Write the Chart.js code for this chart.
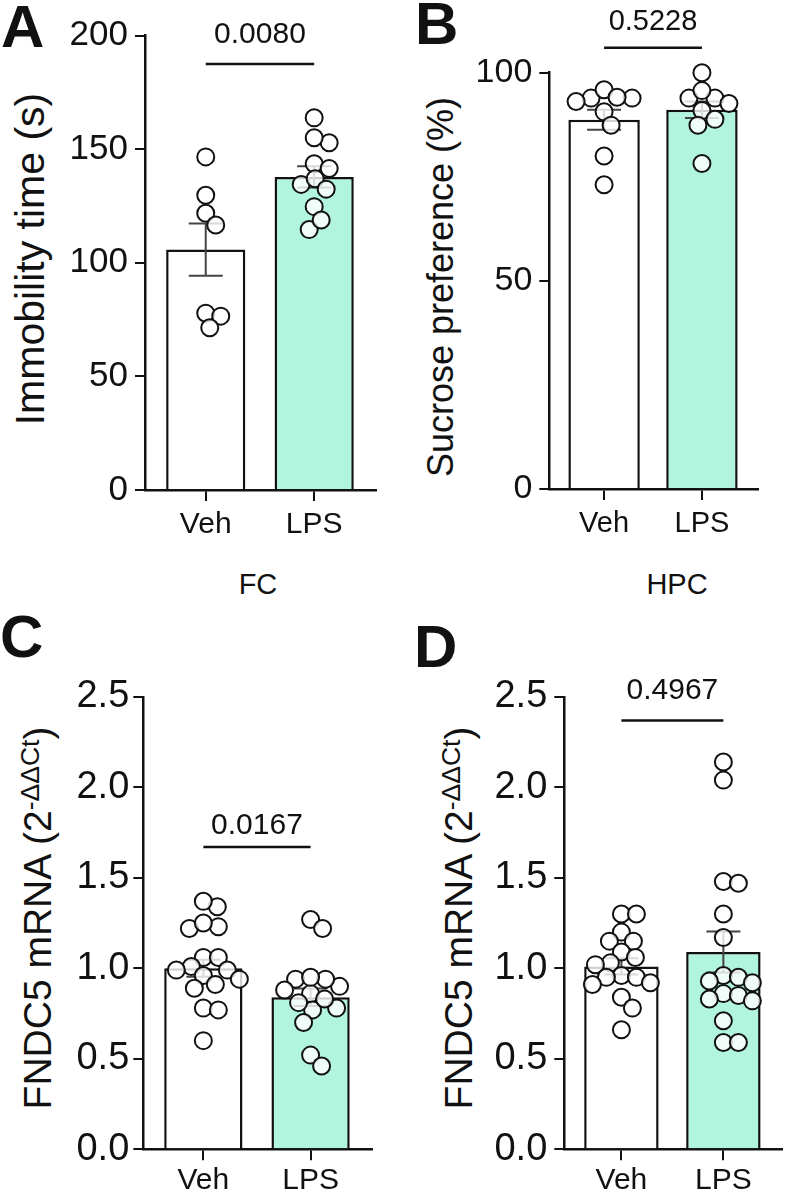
<!DOCTYPE html>
<html>
<head>
<meta charset="utf-8">
<script src="https://cdn.jsdelivr.net/npm/chart.js@4.4.1/dist/chart.umd.min.js"></script>
<style>
  body { margin: 0; background: #fff; width: 792px; height: 1196px; position: relative; overflow: hidden;
         font-family: "Liberation Sans", Arial, sans-serif; color: #111; }
  canvas { position: absolute; }
  .tag { position: absolute; font-weight: bold; font-size: 60px; line-height: 1; }
  .yt { position: absolute; transform: translate(-50%, -50%) rotate(-90deg); white-space: nowrap; line-height: 1; }
  .yt .sup { font-size: 0.68em; position: relative; top: -0.45em; line-height: 0; }
  .grp { position: absolute; width: 200px; text-align: center; font-size: 29px; line-height: 1; }
</style>
</head>
<body>
<div class="tag" style="left:1px;top:-3px">A</div>
<div class="tag" style="left:415px;top:-6px">B</div>
<div class="tag" style="left:0px;top:607px">C</div>
<div class="tag" style="left:414px;top:617px">D</div>

<div class="yt" style="left:30px;top:259px;font-size:41px">Immobility time (s)</div>
<div class="yt" style="left:441px;top:287px;font-size:36px">Sucrose preference (%)</div>
<div class="yt" style="left:37px;top:918px;font-size:39px">FNDC5 mRNA (2<span class="sup">-ΔΔCt</span>)</div>
<div class="yt" style="left:458px;top:918px;font-size:39px">FNDC5 mRNA (2<span class="sup">-ΔΔCt</span>)</div>

<div class="grp" style="left:158px;top:570px">FC</div>
<div class="grp" style="left:577px;top:570px">HPC</div>

<canvas id="cA" width="396" height="600" style="left:0;top:0"></canvas>
<canvas id="cB" width="396" height="600" style="left:396px;top:0"></canvas>
<canvas id="cC" width="396" height="596" style="left:0;top:600px"></canvas>
<canvas id="cD" width="396" height="596" style="left:396px;top:600px"></canvas>

<script>
const groups = ["Veh", "LPS"];

// A: immobility time (s)
const immobilityVeh = [121.8, 146.6, 129.7, 116.6, 77.8, 76.5, 71.4];
const immobilityLps = [163.8, 152.8, 155.0, 143.6, 141.5, 134.5, 137.0, 132.4, 124.7, 114.6, 118.8];
const immobilityMean = [105.8, 137.8];
const immobilitySem = [11.5, 4.7];
const immobilityTicks = [0, 50, 100, 150, 200];

// B: sucrose preference (%)
const sucroseVeh = [93.9, 93.9, 93.1, 95.9, 94.1, 90.6, 87.4, 80.0, 73.1];
const sucroseLps = [100.0, 93.9, 93.9, 92.6, 95.7, 90.9, 88.8, 87.4, 78.2];
const sucroseMean = [88.7, 91.1];
const sucroseSem = [2.4, 2.0];
const sucroseTicks = [0, 50, 100];

// C: FNDC5 mRNA, FC
const fcVeh = [1.34, 1.37, 1.23, 1.22, 1.25, 1.06, 1.06, 0.99, 1.01, 0.99, 0.96, 0.91, 0.94, 0.89, 0.78, 0.77, 0.60];
const fcLps = [1.27, 1.22, 0.86, 0.90, 0.94, 0.94, 0.88, 0.95, 0.77, 0.78, 0.83, 0.70, 0.81, 0.52, 0.46];
const fcMean = [1.00, 0.84];
const fcSem = [0.047, 0.048];

// D: FNDC5 mRNA, HPC
const hpcVeh = [1.30, 1.30, 1.20, 1.15, 1.15, 1.09, 1.06, 1.03, 1.02, 0.96, 0.95, 0.95, 0.92, 0.91, 0.84, 0.78, 0.66];
const hpcLps = [2.14, 2.04, 1.48, 1.47, 1.30, 1.17, 0.96, 0.93, 0.95, 0.92, 0.86, 0.85, 0.83, 0.82, 0.71, 0.59, 0.59];
const hpcMean = [1.01, 1.09];
const hpcSem = [0.045, 0.113];
const mrnaTicks = [0, 0.5, 1.0, 1.5, 2.0, 2.5];

const pValues = ["0.0080", "0.5228", "0.0167", "0.4967"];
const pLevels = [187.5, 106, 1.67, 2.37];

const FONT = "'Liberation Sans', Arial, sans-serif";
const INK = "#111";
const MINT = "#b2f5de";

// SEM whiskers, drawn over the bars but under the dots
const errorBars = {
  id: "errorBars",
  afterDatasetDraw(chart, args, opts) {
    if (args.meta.type !== "bar") return;
    const { ctx } = chart;
    const x = chart.scales.x, y = chart.scales.y;
    ctx.save();
    ctx.strokeStyle = "#444";
    ctx.lineWidth = 2;
    chart.data.datasets[args.index].data.forEach((d, i) => {
      const px = x.getPixelForValue(d.x);
      const top = y.getPixelForValue(d.y + opts.sem[i]);
      const bot = y.getPixelForValue(d.y - opts.sem[i]);
      ctx.beginPath();
      ctx.moveTo(px, top); ctx.lineTo(px, bot);
      ctx.moveTo(px - 17, top); ctx.lineTo(px + 17, top);
      ctx.moveTo(px - 17, bot); ctx.lineTo(px + 17, bot);
      ctx.stroke();
    });
    ctx.restore();
  }
};

// significance bar with p value
const pBracket = {
  id: "pBracket",
  afterDraw(chart, args, opts) {
    const { ctx } = chart;
    const x = chart.scales.x, y = chart.scales.y;
    const py = y.getPixelForValue(opts.level);
    const x0 = x.getPixelForValue(0), x1 = x.getPixelForValue(1);
    ctx.save();
    ctx.strokeStyle = INK;
    ctx.lineWidth = 2.5;
    ctx.beginPath(); ctx.moveTo(x0, py); ctx.lineTo(x1, py); ctx.stroke();
    ctx.fillStyle = INK;
    ctx.font = opts.size + "px " + FONT;
    ctx.textAlign = "center";
    ctx.textBaseline = "alphabetic";
    ctx.fillText(opts.text, (x0 + x1) / 2, py - opts.gap);
    ctx.restore();
  }
};

function dots(values, g) {
  return {
    type: "scatter",
    group: g,
    data: values.map(v => ({ x: g, y: v })),
    pointRadius: 8.5,
    pointBorderWidth: 2,
    pointBackgroundColor: "rgba(255,255,255,0.8)",
    pointBorderColor: INK,
    order: 0,
    clip: false
  };
}

function panel(id, cfg) {
  return new Chart(document.getElementById(id), {
    type: "bar",
    data: {
      datasets: [
        dots(cfg.veh, 0),
        dots(cfg.lps, 1),
        {
          type: "bar",
          data: cfg.mean.map((m, i) => ({ x: i, y: m })),
          backgroundColor: ["#ffffff", MINT],
          borderColor: INK,
          borderWidth: 2.5,
          borderSkipped: "start",
          barPercentage: 0.73,
          categoryPercentage: 1,
          order: 1
        }
      ]
    },
    options: {
      responsive: false,
      animation: false,
      events: [],
      layout: { padding: { top: cfg.top, right: cfg.right, left: 0, bottom: 0 } },
      plugins: {
        legend: { display: false },
        tooltip: { enabled: false },
        errorBars: { sem: cfg.sem },
        pBracket: { level: cfg.level, text: cfg.p, gap: cfg.gap, size: cfg.pSize }
      },
      scales: {
        x: {
          type: "linear",
          min: -0.56,
          max: 1.57,
          offset: false,
          afterBuildTicks: s => { s.ticks = [{ value: 0 }, { value: 1 }]; },
          afterFit: s => { s.height = cfg.xH; },
          ticks: { callback: v => groups[v], color: INK, font: { size: cfg.xFont, family: FONT }, padding: cfg.xPad, maxRotation: 0, autoSkip: false },
          grid: { display: true, offset: false, drawOnChartArea: false, drawTicks: true, tickLength: 11, color: INK, lineWidth: 2 },
          border: { display: true, color: INK, width: 2.5 }
        },
        y: {
          min: 0,
          max: cfg.ticks[cfg.ticks.length - 1],
          afterBuildTicks: s => { s.ticks = cfg.ticks.map(v => ({ value: v })); },
          afterFit: s => { s.width = cfg.yW; },
          ticks: { callback: cfg.fmt, color: INK, font: { size: cfg.yFont, family: FONT }, padding: cfg.yPad },
          grid: { display: true, drawOnChartArea: false, drawTicks: true, tickLength: 10, color: INK, lineWidth: 2 },
          border: { display: true, color: INK, width: 2.5 }
        }
      }
    },
    plugins: [errorBars, pBracket]
  });
}

// spread the dots sideways so they do not sit on top of each other
function swarm(chart) {
  const x = chart.scales.x, y = chart.scales.y;
  const unit = x.getPixelForValue(1) - x.getPixelForValue(0);
  const minDist = 15;
  chart.data.datasets.forEach(ds => {
    if (ds.type !== "scatter") return;
    const placed = [];
    const idx = ds.data.map((d, i) => i).sort((a, b) => ds.data[b].y - ds.data[a].y);
    idx.forEach(i => {
      const py = y.getPixelForValue(ds.data[i].y);
      let dx = 0;
      for (let k = 0; k < 400; k++) {
        const cand = k === 0 ? 0 : (k % 2 ? 1 : -1) * Math.ceil(k / 2);
        const ok = placed.every(p => (cand - p.dx) ** 2 + (py - p.py) ** 2 >= minDist * minDist);
        if (ok) { dx = cand; break; }
      }
      placed.push({ dx, py });
      ds.data[i].x = ds.group + dx / unit;
    });
  });
  chart.update("none");
}

const fmt0 = v => String(v);
const fmt1 = v => v.toFixed(1);

const charts = [
  panel("cA", { veh: immobilityVeh, lps: immobilityLps, mean: immobilityMean, sem: immobilitySem, ticks: immobilityTicks, fmt: fmt0,
                top: 35.6, right: 20, yW: 145, xH: 110.1, yFont: 35, yPad: 7, xFont: 30, xPad: 6,
                level: pLevels[0], p: pValues[0], gap: 21, pSize: 30 }),
  panel("cB", { veh: sucroseVeh, lps: sucroseLps, mean: sucroseMean, sem: sucroseSem, ticks: sucroseTicks, fmt: fmt0,
                top: 72.7, right: 34.3, yW: 153.3, xH: 110.9, yFont: 34, yPad: 7, xFont: 29, xPad: 6,
                level: pLevels[1], p: pValues[1], gap: 18, pSize: 29 }),
  panel("cC", { veh: fcVeh, lps: fcLps, mean: fcMean, sem: fcSem, ticks: mrnaTicks, fmt: fmt1,
                top: 96.9, right: 24.3, yW: 143.3, xH: 46.8, yFont: 38, yPad: 4, xFont: 30, xPad: 3,
                level: pLevels[2], p: pValues[2], gap: 13, pSize: 30 }),
  panel("cD", { veh: hpcVeh, lps: hpcLps, mean: hpcMean, sem: hpcSem, ticks: mrnaTicks, fmt: fmt1,
                top: 96.9, right: 0, yW: 168.3, xH: 46.8, yFont: 38, yPad: 7, xFont: 30, xPad: 3,
                level: pLevels[3], p: pValues[3], gap: 21, pSize: 30 })
];
charts.forEach(swarm);
</script>
</body>
</html>
